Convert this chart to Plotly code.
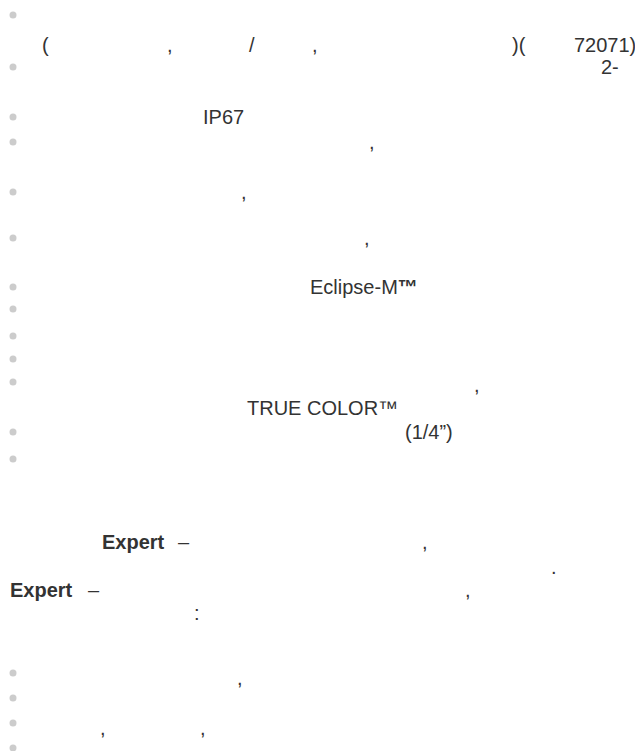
import plotly.graph_objects as go

W, H = 635, 751

# Bullet markers (vertical position of each list item)
bullet_x = [13] * 17
bullet_y = [15, 67, 117, 142, 192, 238, 287, 309, 336, 359, 382, 432, 459,
            673, 698, 723, 748]

# Visible text fragments of the page (glyphs that could be rendered)
text_str = ["(", ",", "/", ",", ")(", "72071)",
            "2-",
            "IP67",
            ",",
            ",",
            ",",
            "Eclipse-M<b>™</b>",
            ",",
            "TRUE COLOR™",
            "(1/4”)",
            "<b>Expert</b>", "–", ",",
            ".",
            "<b>Expert</b>", "–", ",",
            ":",
            ",",
            ",", ",",
            "<b>-</b>"]
text_x = [40, 165, 247, 310, 510, 572,
          599,
          201,
          367,
          239,
          362,
          308,
          472,
          245,
          403,
          100, 176, 420,
          549,
          8, 86, 463,
          192,
          235,
          98, 198,
          244]
text_y = [45, 45, 45, 45, 45, 45,
          67,
          117,
          142,
          192,
          238,
          287,
          385,
          408,
          432,
          542, 542, 542,
          567,
          590, 590, 590,
          613,
          678,
          728, 728,
          752]

fig = go.Figure()
fig.add_trace(go.Scatter(
    x=bullet_x, y=bullet_y, mode="markers",
    marker=dict(size=7, color="#cccccc"),
    hoverinfo="skip", showlegend=False))

for s, x, y in zip(text_str, text_x, text_y):
    fig.add_annotation(x=x, y=y, text=s, showarrow=False,
                       xanchor="left", yanchor="middle",
                       font=dict(family="Liberation Sans, Arial, sans-serif",
                                 size=20, color="#333333"))

fig.update_xaxes(range=[0, W], visible=False, fixedrange=True)
fig.update_yaxes(range=[H, 0], visible=False, fixedrange=True)
fig.update_layout(width=W, height=H, margin=dict(l=0, r=0, t=0, b=0),
                  plot_bgcolor="white", paper_bgcolor="white")
fig.write_html("out.html", config={"displayModeBar": False},
               post_script="document.body.style.margin='0';")
